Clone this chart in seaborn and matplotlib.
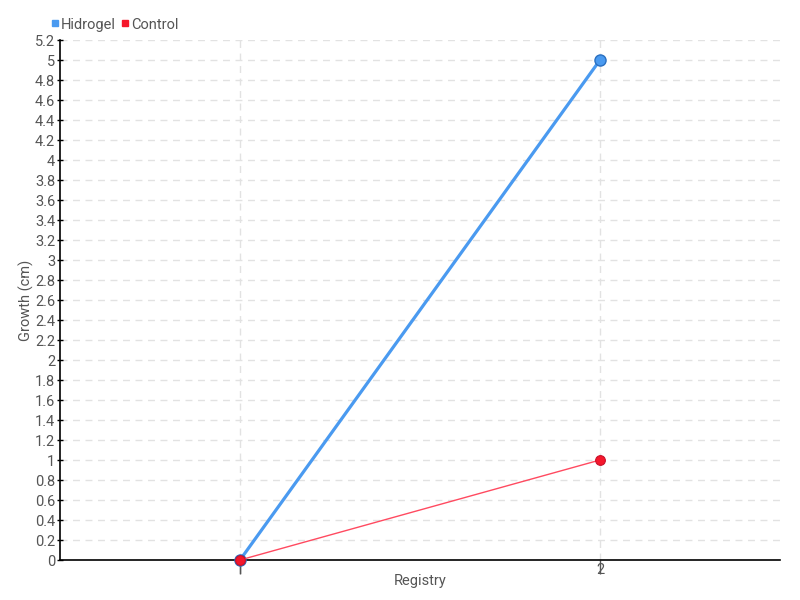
import matplotlib
matplotlib.use("Agg")
import matplotlib.pyplot as plt
import seaborn as sns
import pandas as pd
import numpy as np
from matplotlib.lines import Line2D

registry = [1, 2]
hidrogel = [0, 5]
control = [0, 1]
series_names = ["Hidrogel", "Control"]
colors = {"Hidrogel": "#4a9af0", "Control": "#f5172b"}

sns.set_theme(style="white")
plt.rcParams['font.family'] = ['Roboto', 'DejaVu Sans']

df = pd.DataFrame({
    "Registry": registry * 2,
    "Growth": hidrogel + control,
    "Series": ["Hidrogel"] * len(registry) + ["Control"] * len(registry),
})

fig = plt.figure(figsize=(8, 6), dpi=100)
ax = fig.add_axes([0.075, 1 - 560 / 600, 0.9, 520 / 600])

sns.lineplot(data=df[df.Series == "Hidrogel"], x="Registry", y="Growth",
             color=colors["Hidrogel"], linewidth=2.3, marker="o", markersize=8,
             markeredgecolor="#2a6fc0", markeredgewidth=1, ax=ax, zorder=3,
             clip_on=False)
sns.lineplot(data=df[df.Series == "Control"], x="Registry", y="Growth",
             color="#ff4a60", linewidth=1.0, marker="o", markersize=7,
             markerfacecolor=colors["Control"], markeredgecolor="#c8102a",
             markeredgewidth=0.8, ax=ax, zorder=4, clip_on=False)

ax.set_xlim(0.5, 2.5)
ax.set_ylim(0, 5.2)
ax.set_xticks(registry)
ax.set_xticklabels([str(r) for r in registry])
yt = np.round(np.arange(0, 5.21, 0.2), 1)
ax.set_yticks(yt)
ax.set_yticklabels([("%g" % v) for v in yt])

ax.grid(True, color="#e2e2e2", linestyle=(0, (5, 4)), linewidth=1)
for s in ["top", "right"]:
    ax.spines[s].set_visible(False)
for s in ["left", "bottom"]:
    ax.spines[s].set_color("black")
    ax.spines[s].set_linewidth(1.2)

ax.tick_params(axis="y", direction="inout", length=5, width=1, color="black",
               labelsize=10.5, labelcolor="#555555", pad=1, left=True)
ax.tick_params(axis="x", direction="out", length=10, width=1, color="#555555",
               labelsize=10.5, labelcolor="#555555", pad=-8, bottom=True)

ax.set_xlabel("Registry", fontsize=10.5, color="#555555", labelpad=-2)
ax.set_ylabel("Growth (cm)", fontsize=10.5, color="#555555", labelpad=1)

handles = [Line2D([], [], marker="s", linestyle="", markersize=4.5,
                  color=colors[n]) for n in series_names]
ax.legend(handles, series_names, loc="lower left", bbox_to_anchor=(-0.02, 1.005),
          ncol=2, frameon=False, handlelength=0.5, handletextpad=0.15,
          columnspacing=0.4, borderaxespad=0, fontsize=10.5,
          labelcolor="#555555")

fig.savefig("out.png", dpi=100)
